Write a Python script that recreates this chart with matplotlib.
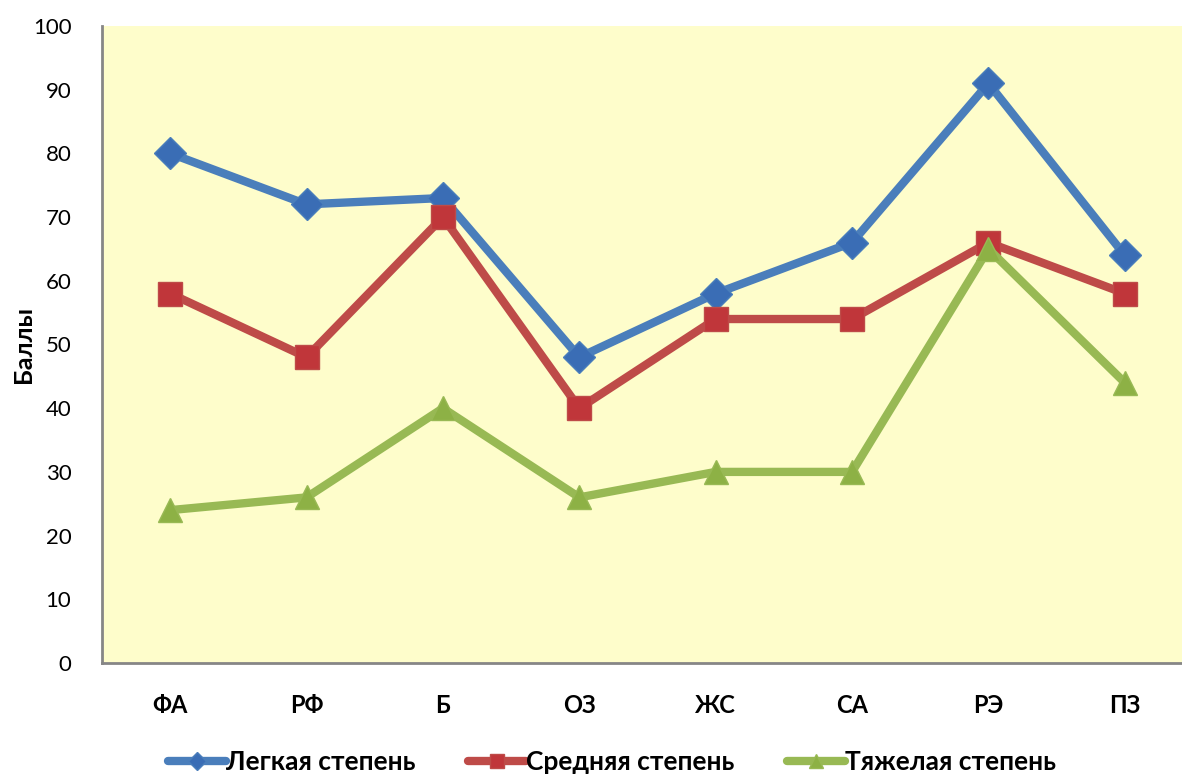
import matplotlib.pyplot as plt

categories = ['ФА', 'РФ', 'Б', 'ОЗ', 'ЖС', 'СА', 'РЭ', 'ПЗ']
mild = [80, 72, 73, 48, 58, 66, 91, 64]
moderate = [58, 48, 70, 40, 54, 54, 66, 58]
severe = [24, 26, 40, 26, 30, 30, 65, 44]

plt.rcParams['font.family'] = ['Lato', 'DejaVu Sans']

fig = plt.figure(figsize=(11.82, 7.75), dpi=100)
# plot area runs past the right edge of the figure
ax = fig.add_axes([102 / 1182, 1 - 663 / 775, 1091 / 1182, 637 / 775])
ax.set_facecolor('#FEFDCB')

x = list(range(len(categories)))
series = [
    (mild, 'Легкая степень', '#4A7EBB', '#3A6DB5', 'D', 16),
    (moderate, 'Средняя степень', '#BE4B48', '#C0363A', 's', 17),
    (severe, 'Тяжелая степень', '#98B954', '#8DB145', '^', 17),
]
for vals, name, lc, mc, mk, ms in series:
    ax.plot(x, vals, color=lc, lw=6, marker=mk, ms=ms,
            markerfacecolor=mc, markeredgecolor=lc, markeredgewidth=1,
            label=name, solid_capstyle='round')

ax.set_xlim(-0.5, 7.5)
ax.set_ylim(0, 100)
ax.set_yticks(range(0, 101, 10))
ax.set_xticks(x)
ax.set_xticklabels(categories, fontsize=17, fontweight='bold')
ax.tick_params(axis='y', labelsize=16, length=0, pad=22)
ax.tick_params(axis='x', length=0, pad=22)

for side in ['top', 'right']:
    ax.spines[side].set_visible(False)
for side in ['left', 'bottom']:
    ax.spines[side].set_color('#868686')
    ax.spines[side].set_linewidth(2)

ax.set_ylabel('Баллы', fontsize=18, fontweight='bold')
ax.yaxis.set_label_coords(-67 / 1091, 0.5)

fig.legend(loc='center', bbox_to_anchor=(612 / 1182, 1 - 762 / 775), ncol=3,
           frameon=False, prop={'size': 19, 'weight': 'bold'}, markerscale=0.6,
           handlelength=2.2, handletextpad=0.0, columnspacing=2.0)

fig.savefig('out.png', dpi=100)
